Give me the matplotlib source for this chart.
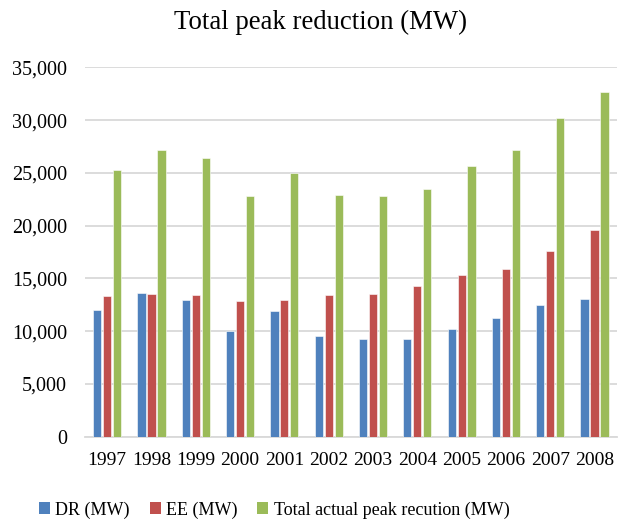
import numpy as np
import matplotlib
matplotlib.use("Agg")
import matplotlib.pyplot as plt
from matplotlib.patches import Patch
from matplotlib.ticker import FuncFormatter

plt.rcParams['font.family'] = ['Liberation Serif', 'DejaVu Serif']

anos = ['1997', '1998', '1999', '2000', '2001', '2002',
        '2003', '2004', '2005', '2006', '2007', '2008']
dr = [12000, 13600, 12950, 10000, 11950, 9500,
      9300, 9250, 10250, 11250, 12500, 13050]
ee = [13300, 13550, 13450, 12850, 13000, 13400,
      13550, 14250, 15300, 15900, 17650, 19600]
total = [25250, 27200, 26400, 22850, 24950, 22900,
         22850, 23500, 25700, 27200, 30200, 32700]

series = [('DR (MW)', dr, '#4F81BD'),
          ('EE (MW)', ee, '#C0504D'),
          ('Total actual peak recution (MW)', total, '#9BBB59')]

fig = plt.figure(figsize=(6.19, 5.23), dpi=100)
ax = fig.add_axes([0.1373, 0.165, 0.859, 0.706])

x = np.arange(len(anos))
largura = 0.185
passo = 0.225
for i, (nome, valores, cor) in enumerate(series):
    ax.bar(x + (i - 1) * passo, valores, largura, color=cor,
           edgecolor='white', linewidth=0.4, zorder=3)

ax.set_xlim(-0.5, len(anos) - 0.5)
ax.set_ylim(0, 35000)
ax.set_yticks(range(0, 35001, 5000))
ax.yaxis.set_major_formatter(FuncFormatter(lambda v, p: f'{int(v):,}'))
ax.set_xticks(x)
ax.set_xticklabels(anos)
ax.tick_params(axis='y', length=0, pad=13, labelsize=14.5)
ax.tick_params(axis='x', length=0, pad=11, labelsize=14)
ax.grid(axis='y', color='#D9D9D9', linewidth=1.3, zorder=0)
for lado in ['top', 'right', 'left']:
    ax.spines[lado].set_visible(False)
ax.spines['bottom'].set_color('#D9D9D9')
ax.spines['bottom'].set_linewidth(1.3)

fig.text(0.518, 0.958, 'Total peak reduction (MW)', ha='center', va='center',
         fontsize=19.3)

handles = [Patch(facecolor=c, label=n) for n, _, c in series]
fig.legend(handles=handles, loc='center', bbox_to_anchor=(0.443, 0.025), ncol=3,
           frameon=False, fontsize=13, handlelength=0.6, handleheight=0.6,
           handletextpad=0.3, columnspacing=1.1)

fig.savefig('out.png', dpi=100)
